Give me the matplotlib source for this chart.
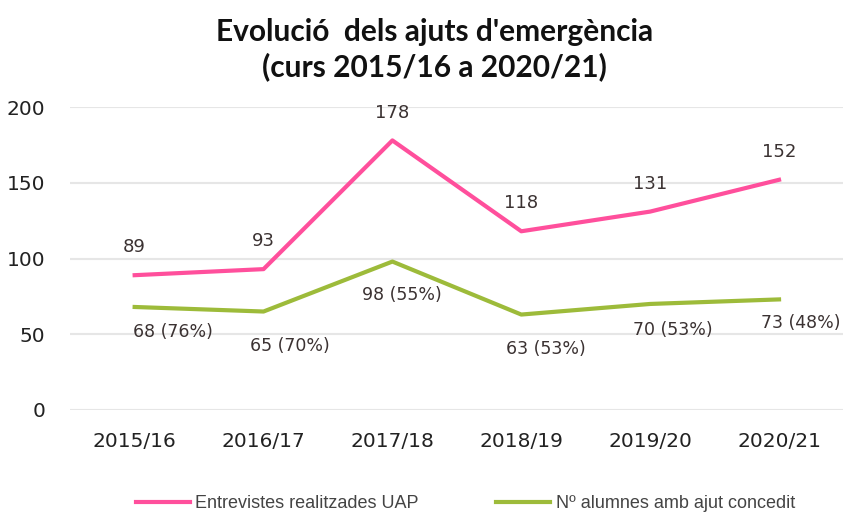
import matplotlib.pyplot as plt

cursos = ['2015/16', '2016/17', '2017/18', '2018/19', '2019/20', '2020/21']
entrevistes = [89, 93, 178, 118, 131, 152]
alumnes = [68, 65, 98, 63, 70, 73]
percentatges = [76, 70, 55, 53, 53, 48]

# colors i desplaçaments de les etiquetes (en punts)
rosa = '#ff4f9c'
verd = '#9dbb3a'
etiq_color = '#3b3232'
desp_verd = [(-1, -18), (-10, -25), (-22, -24), (-11, -25), (-12, -19), (-13, -17)]

fig = plt.figure(figsize=(8.46, 5.15), dpi=100)
ax = fig.add_axes([0.083, 0.204, 0.914, 0.588])

x = list(range(len(cursos)))
ax.plot(x, entrevistes, color=rosa, linewidth=3, label='Entrevistes realitzades UAP')
ax.plot(x, alumnes, color=verd, linewidth=3, label='Nº alumnes amb ajut concedit')

for i, v in enumerate(entrevistes):
    ax.annotate(str(v), (i, v), xytext=(0, 20), textcoords='offset points',
                ha='center', va='center', fontsize=13, color=etiq_color)

for i, (v, p) in enumerate(zip(alumnes, percentatges)):
    dx, dy = desp_verd[i]
    ax.annotate(f'{v} ({p}%)', (i, v), xytext=(dx, dy), textcoords='offset points',
                ha='left', va='center', fontsize=12.5, color=etiq_color)

ax.set_xlim(-0.5, 5.5)
ax.set_ylim(0, 200)
ax.set_yticks([0, 50, 100, 150, 200])
ax.set_xticks(x)
ax.set_xticklabels(cursos)
ax.tick_params(axis='both', length=0, labelsize=14.5, colors='#222222')
ax.tick_params(axis='x', pad=16)
ax.tick_params(axis='y', pad=18)
for label in ax.get_yticklabels():
    label.set_horizontalalignment('right')
ax.grid(axis='y', color='#e6e6e6', linewidth=1.5)
ax.set_axisbelow(True)
for s in ax.spines.values():
    s.set_visible(False)

fig.text(0.514, 0.938, "Evolució  dels ajuts d'emergència", ha='center', va='center',
         fontsize=21.5, fontweight='bold', family=['Lato', 'DejaVu Sans'], color='#111111')
fig.text(0.514, 0.87, '(curs 2015/16 a 2020/21)', ha='center', va='center',
         fontsize=21.5, fontweight='bold', family=['Lato', 'DejaVu Sans'], color='#111111')

fig.legend(loc='center', bbox_to_anchor=(0.55, 0.022), ncol=2, frameon=False,
           handlelength=3, handletextpad=0.3, columnspacing=4.3,
           prop={'family': 'Liberation Sans', 'size': 13}, labelcolor='#444444')

fig.savefig('out.png', dpi=100)
